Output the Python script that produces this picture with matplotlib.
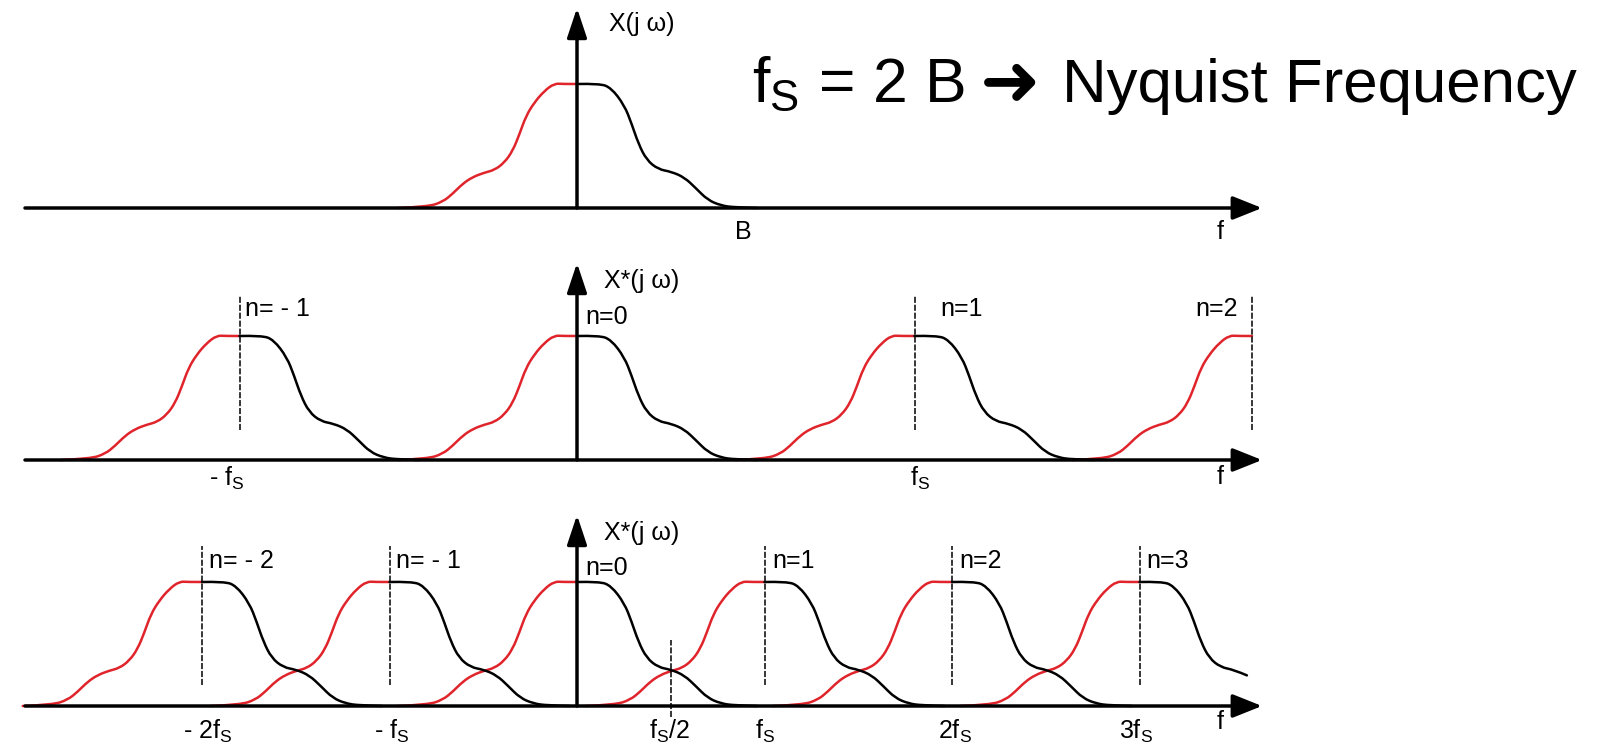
import matplotlib
matplotlib.use("Agg")
import matplotlib.pyplot as plt
from matplotlib.path import Path
from matplotlib.patches import PathPatch

plt.rcParams['font.family'] = ['Liberation Sans', 'DejaVu Sans']
plt.rcParams['mathtext.fontset'] = 'custom'
plt.rcParams['mathtext.rm'] = 'Liberation Sans'
plt.rcParams['mathtext.it'] = 'Liberation Sans'

# spectrum shape (u = f/B, h = |X| / peak)
RED_U = [0.0, 0.095, 0.151, 0.218, 0.285, 0.34, 0.384, 0.429, 0.485, 0.551,
         0.618, 0.695, 0.762, 0.829, 0.895, 0.995, 1.195]
RED_H = [1.0, 1.0, 1.004, 0.944, 0.85, 0.742, 0.594, 0.46, 0.365, 0.306,
         0.285, 0.25, 0.196, 0.115, 0.05, 0.01, 0.0]
BLACK_U = [0.0, 0.149, 0.227, 0.316, 0.364, 0.409, 0.464, 0.542, 0.627,
           0.716, 0.793, 0.871, 0.96, 1.049, 1.2]
BLACK_H = [1.0, 1.004, 0.97, 0.828, 0.68, 0.52, 0.387, 0.312, 0.293,
           0.247, 0.159, 0.065, 0.02, 0.005, 0.0]

# sampling frequencies in units of B
FS_OVER = 2.25
FS_UNDER = 1.25
N_OVER = [-1, 0, 1, 2]
N_UNDER = [-2, -1, 0, 1, 2, 3]
UNDER_CUT = 0.72   # right half of the last replica is cut off here

RED = '#e0242b'
W, H = 1598, 752
XPX = 150.0   # px per B
YPX = 124.0   # px per unit height
X0 = 577      # px of f = 0

fig = plt.figure(figsize=(W / 100, H / 100), dpi=100)


def panel(top, bottom, base):
    ax = fig.add_axes([0, 1 - bottom / H, 1, (bottom - top) / H])
    ax.set_xlim(-X0 / XPX, (W - X0) / XPX)
    ax.set_ylim(-(bottom - base) / YPX, (base - top) / YPX)
    ax.axis('off')
    return ax


def axes_arrows(ax, ytip):
    x1 = (25 - X0) / XPX
    x2 = (1262 - X0) / XPX
    ax.annotate('', xy=(x2, 0), xytext=(x1, 0),
                arrowprops=dict(arrowstyle='-|>,head_length=0.9,head_width=0.36',
                                mutation_scale=20, lw=2.5, color='k',
                                shrinkA=0, shrinkB=0), zorder=5)
    ax.annotate('', xy=(0, ytip), xytext=(0, 0),
                arrowprops=dict(arrowstyle='-|>,head_length=0.9,head_width=0.3',
                                mutation_scale=20, lw=2.5, color='k',
                                shrinkA=0, shrinkB=0), zorder=5)


def smooth(ax, xs, ys, color, z):
    # quadratic bezier through the midpoints of the read points
    pts = list(zip(xs, ys))
    verts = [pts[0]]
    codes = [Path.MOVETO]
    for i in range(1, len(pts) - 1):
        end = pts[i + 1] if i == len(pts) - 2 else (
            (pts[i][0] + pts[i + 1][0]) / 2, (pts[i][1] + pts[i + 1][1]) / 2)
        verts += [pts[i], end]
        codes += [Path.CURVE3, Path.CURVE3]
    ax.add_patch(PathPatch(Path(verts, codes), fill=False, edgecolor=color,
                           lw=1.8, zorder=z, capstyle='round'))


def spectrum(ax, c, left=True, right=True, cut=None):
    if left:
        smooth(ax, [c - u for u in RED_U], RED_H, RED, 2)
    if right:
        us = [u for u in BLACK_U if cut is None or u <= cut]
        hs = BLACK_H[:len(us)]
        smooth(ax, [c + u for u in us], hs, 'k', 3)


def dash(ax, x, y0, y1):
    ax.plot([x, x], [y0, y1], color='k', lw=1.1, ls=(0, (4, 1.2)), zorder=4)


def label(x, y, s, size=18, ha='left', **kw):
    fig.text(x / W, 1 - y / H, s, fontsize=size, ha=ha, va='baseline', **kw)


FS = r'$\mathregular{f_S}$'

# --- top: original spectrum
ax1 = panel(0, 250, 208)
spectrum(ax1, 0)
axes_arrows(ax1, (208 - 8) / YPX)
label(609, 31, 'X(j ω)')
label(735, 239, 'B')
label(1220, 239, 'f', ha='center')

# --- middle: fs > 2B
ax2 = panel(250, 495, 460)
for n in N_OVER:
    c = n * FS_OVER
    spectrum(ax2, c, right=(n != N_OVER[-1]))
    if n != 0:
        dash(ax2, c, (460 - 430) / YPX, (460 - 296) / YPX)
axes_arrows(ax2, (460 - 263) / YPX)
label(604, 288, 'X*(j ω)')
label(245, 316, 'n= - 1')
label(585, 324, 'n=0')
label(940, 316, 'n=1')
label(1238, 316, 'n=2', ha='right')
label(209, 486, '- ' + FS)
label(910, 486, FS)
label(1220, 484, 'f', ha='center')

# --- bottom: fs < 2B, aliasing
ax3 = panel(495, 752, 706)
for n in N_UNDER:
    c = n * FS_UNDER
    spectrum(ax3, c, cut=(UNDER_CUT if n == N_UNDER[-1] else None))
    if n != 0:
        dash(ax3, c, (706 - 685) / YPX, (706 - 546) / YPX)
dash(ax3, FS_UNDER / 2, (706 - 717) / YPX, (706 - 640) / YPX)
axes_arrows(ax3, (706 - 515) / YPX)
label(604, 540, 'X*(j ω)')
label(209, 568, 'n= - 2')
label(396, 568, 'n= - 1')
label(585, 575, 'n=0')
label(772, 568, 'n=1')
label(959, 568, 'n=2')
label(1146, 568, 'n=3')
label(183, 739, '- 2' + FS)
label(374, 739, '- ' + FS)
label(649, 739, FS + '/2')
label(755, 739, FS)
label(938, 739, '2' + FS)
label(1119, 739, '3' + FS)
label(1220, 729, 'f', ha='center')

# title
label(752, 102, FS + ' = 2 B', size=45)
label(980, 104, '➜', size=52, family=['DejaVu Sans'])
label(1062, 102, 'Nyquist Frequency', size=44.5)

fig.savefig('out.png', dpi=100)
